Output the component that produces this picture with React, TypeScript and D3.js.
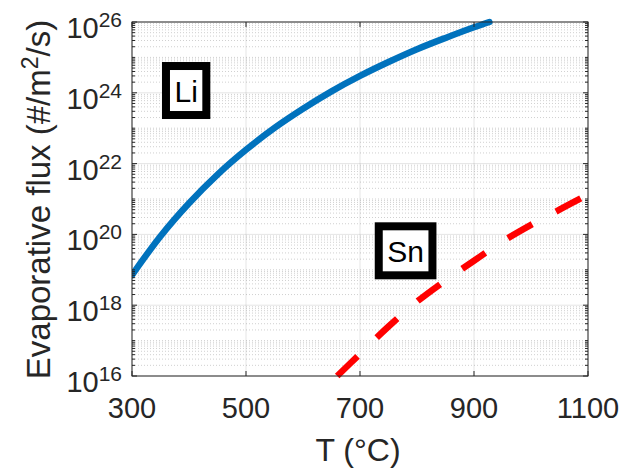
import React from 'react';
import * as d3 from 'd3';

// Data
const LI_T = [300, 350, 400, 450, 500, 550, 600, 650, 700, 750, 800, 850, 900, 927];
const LI_FLUX = [7.1e18, 8.9e19, 7.6e20, 4.9e21, 2.45e22, 1.02e23, 3.55e23, 1.1e24, 3.0e24, 7.4e24, 1.7e25, 3.55e25, 7.1e25, 1.0e26];
const SN_T = [660, 700, 750, 800, 850, 900, 950, 1000, 1050, 1100];
const SN_FLUX = [1.0e16, 4.2e16, 2.5e17, 1.26e18, 5.0e18, 1.8e19, 6.3e19, 1.86e20, 5.0e20, 1.35e21];

const X_TICKS = [300, 500, 700, 900, 1100];
const Y_TICK_EXP = [16, 18, 20, 22, 24, 26];

const LABEL_TEXT = ['Li', 'Sn'];
const LABEL_T = [395, 780];
const LABEL_FLUX = [1.16e24, 3.44e19];

const FONT = '"Liberation Sans", Arial, Helvetica, sans-serif';
const AX = '#262626';

function measure(text: string, size: number) {
  const c = document.createElement('canvas').getContext('2d');
  if (!c) return text.length * size * 0.55;
  c.font = `${size}px ${FONT}`;
  return c.measureText(text).width;
}

export default function App() {
  const W = 623, H = 473;
  const L = 132, R = 588, T = 22, B = 376;
  const x = d3.scaleLinear().domain([300, 1100]).range([L, R]);
  const y = d3.scaleLog().domain([1e16, 1e26]).range([B, T]);

  const line = d3.line<[number, number]>()
    .x(d => x(d[0]))
    .y(d => y(d[1]))
    .curve(d3.curveCatmullRom.alpha(0.5));

  const liData = LI_T.map((t, i) => [t, LI_FLUX[i]] as [number, number]);
  const snData = SN_T.map((t, i) => [t, SN_FLUX[i]] as [number, number]);

  const majorY = Y_TICK_EXP.map(e => Math.pow(10, e));
  const minorY: number[] = [];
  for (let k = 16; k < 26; k++) {
    if (k % 2 === 1) minorY.push(Math.pow(10, k));
    for (let m = 2; m <= 9; m++) minorY.push(m * Math.pow(10, k));
  }

  return (
    <svg width={W} height={H} style={{ position: 'absolute', left: 0, top: 0, background: '#fff' }}>
      <defs>
        <clipPath id="plotclip">
          <rect x={L} y={0} width={W - L} height={B} />
        </clipPath>
      </defs>
      <rect x={0} y={0} width={W} height={H} fill="#fff" />
      {/* minor grid */}
      <g stroke="#c4c4c4" strokeWidth={0.8} strokeDasharray="1 2">
        {minorY.map((v, i) => (
          <line key={'mg' + i} x1={L} x2={R} y1={y(v)} y2={y(v)} />
        ))}
      </g>
      {/* major grid */}
      <g stroke={AX} strokeOpacity={0.12} strokeWidth={1}>
        {majorY.map((v, i) => (
          <line key={'gy' + i} x1={L} x2={R} y1={y(v)} y2={y(v)} />
        ))}
        {X_TICKS.map((v, i) => (
          <line key={'gx' + i} x1={x(v)} x2={x(v)} y1={T} y2={B} />
        ))}
      </g>
      {/* data lines */}
      <path d={line(liData) || ''} fill="none" stroke="#0072BD" strokeWidth={6.5} strokeLinecap="round" strokeLinejoin="round" clipPath="url(#plotclip)" />
      <path d={line(snData) || ''} fill="none" stroke="#FF0000" strokeWidth={6.5} strokeDasharray="28 27" />
      {/* label boxes */}
      {LABEL_TEXT.map((s, i) => {
        const cx = x(LABEL_T[i]);
        const cy = y(LABEL_FLUX[i]);
        const tw = measure(s, 30);
        const bw = tw + 17;
        const bh = 49;
        return (
          <g key={'lb' + i}>
            <rect x={cx - bw / 2} y={cy - bh / 2} width={bw} height={bh} fill="#fff" stroke="#000" strokeWidth={8} />
            <text x={cx} y={cy + 11} textAnchor="middle" fontFamily={FONT} fontSize={30} fill="#000">{s}</text>
          </g>
        );
      })}
      {/* axes box */}
      <rect x={L} y={T} width={R - L} height={B - T} fill="none" stroke={AX} strokeWidth={1} />
      {/* ticks */}
      <g stroke={AX} strokeWidth={1}>
        {X_TICKS.map((v, i) => (
          <g key={'xt' + i}>
            <line x1={x(v)} x2={x(v)} y1={B} y2={B - 5} />
            <line x1={x(v)} x2={x(v)} y1={T} y2={T + 5} />
          </g>
        ))}
        {majorY.map((v, i) => (
          <g key={'yt' + i}>
            <line x1={L} x2={L + 5} y1={y(v)} y2={y(v)} />
            <line x1={R} x2={R - 5} y1={y(v)} y2={y(v)} />
          </g>
        ))}
        {minorY.map((v, i) => (
          <g key={'ymt' + i}>
            <line x1={L} x2={L + 3} y1={y(v)} y2={y(v)} />
            <line x1={R} x2={R - 3} y1={y(v)} y2={y(v)} />
          </g>
        ))}
      </g>
      {/* tick labels */}
      <g fontFamily={FONT} fill={AX}>
        {X_TICKS.map((v, i) => (
          <text key={'xl' + i} x={x(v)} y={418} textAnchor="middle" fontSize={29}>{v}</text>
        ))}
        {Y_TICK_EXP.map((e, i) => (
          <text key={'yl' + i} x={122} y={y(Math.pow(10, e)) + 16} textAnchor="end" fontSize={29}>
            10<tspan dy={-11} fontSize={21}>{e}</tspan>
          </text>
        ))}
      </g>
      {/* axis titles */}
      <text x={358} y={461} textAnchor="middle" fontFamily={FONT} fontSize={32} fill={AX}>T (°C)</text>
      <text transform={`translate(50,199.5) rotate(-90)`} textAnchor="middle" fontFamily={FONT} fontSize={33} fill={AX}>
        Evaporative flux (#/m<tspan dy={-12} fontSize={23}>2</tspan><tspan dy={12}>/s)</tspan>
      </text>
    </svg>
  );
}
